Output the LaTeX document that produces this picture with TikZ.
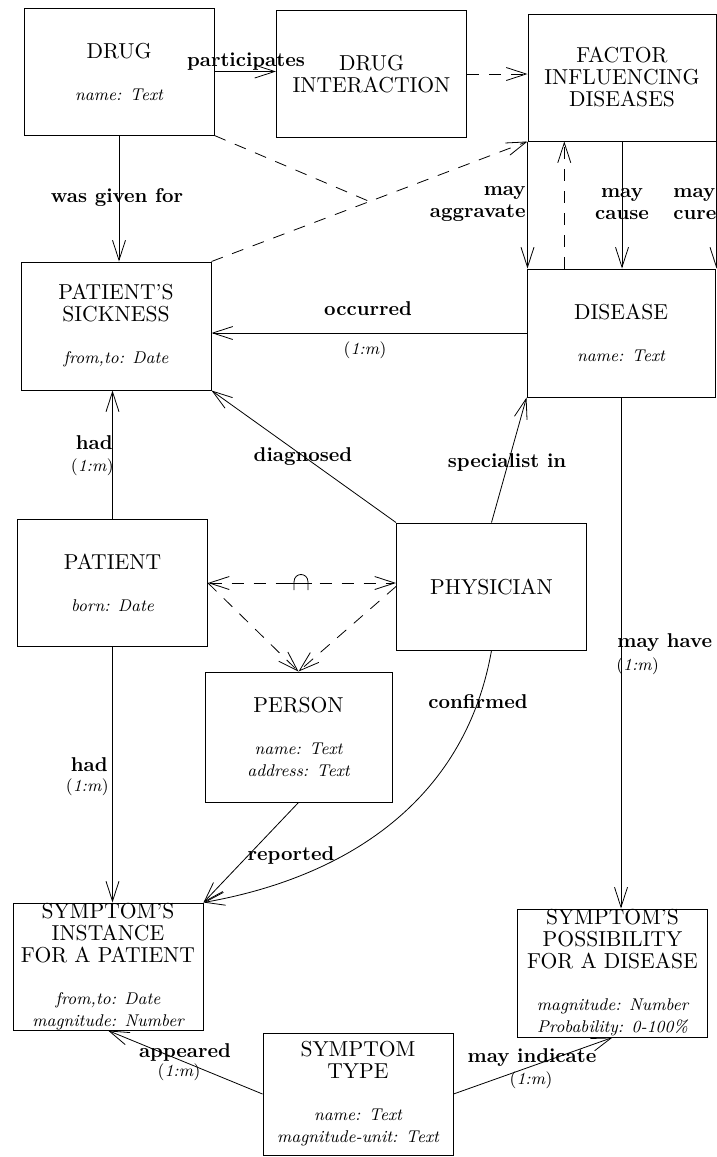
\documentclass[tikz,border=0pt]{standalone}
\usetikzlibrary{arrows.meta,calc}
\newcommand{\at}[1]{{\fontsize{8.5}{11}\selectfont\itshape #1}}
\newcommand{\card}{(\textit{1:m})}
\begin{document}
\begin{tikzpicture}[x=0.5pt,y=-0.5pt,
  ent/.style={draw, line width=0.5pt, minimum width=95pt, minimum height=63.5pt, inner sep=0pt, align=center, font=\fontsize{10.8}{11}\selectfont},
  openv/.tip={Straight Barb[length=10pt,width=6.5pt,line width=0.4pt]},
  arr/.style={line width=0.4pt, -{openv}},
  darr/.style={arr, dash pattern=on 6pt off 5pt},
  dsh/.style={line width=0.4pt, dash pattern=on 6pt off 5pt},
  darrboth/.style={line width=0.4pt, {openv}-{openv}, dash pattern=on 6pt off 5pt},
  lab/.style={font=\fontsize{10}{11}\selectfont\bfseries, inner sep=0pt, align=center},
  crd/.style={font=\fontsize{8.5}{10}\selectfont, inner sep=0pt}]
\fill[white] (0,0) rectangle (717,1157);
\useasboundingbox (0,0) rectangle (717,1157);

% entities
\node[ent] (drug) at (119,71.5) {DRUG\\[10pt]\at{name: Text}};
\node[ent] (inter) at (371.5,74) {DRUG\\INTERACTION};
\node[ent, minimum width=94pt] (factor) at (622,77.5) {FACTOR\\INFLUENCING\\DISEASES};
\node[ent, minimum width=94pt, minimum height=64pt] (disease) at (621,333) {DISEASE\\[10pt]\at{name: Text}};
\node[ent, minimum height=64pt] (sick) at (116,326) {PATIENT'S\\SICKNESS\\[10pt]\at{from,to: Date}};
\node[ent] (patient) at (112.5,583) {PATIENT\\[10pt]\at{born: Date}};
\node[ent] (physician) at (491.5,586.5) {PHYSICIAN};
\node[ent, minimum width=93.5pt, minimum height=65pt] (person) at (298.5,737) {PERSON\\[10pt]\at{name: Text}\\\at{address: Text}};
\node[ent] (inst) at (108,966.5) {SYMPTOM'S\\INSTANCE\\FOR A PATIENT\\[10pt]\at{from,to: Date}\\\at{magnitude: Number}};
\node[ent, minimum height=64pt] (poss) at (612.5,973) {SYMPTOM'S\\POSSIBILITY\\FOR A DISEASE\\[10pt]\at{magnitude: Number}\\\at{Probability: 0-100\%}};
\node[ent, minimum height=61pt] (stype) at (358,1094) {SYMPTOM\\TYPE\\[10pt]\at{name: Text}\\\at{magnitude-unit: Text}};

% connectors
\draw[arr] (drug.east) -- (drug.east -| inter.west);
\draw[darr] (inter.east) -- (inter.east -| factor.west);
\draw[darr] (sick.north east) -- coordinate (j) (factor.south west);
\draw[dsh] (drug.south east) -- (j);
\draw[arr] (drug.south) -- (drug.south |- sick.north);
\draw[arr] (factor.south west) -- (factor.south west |- disease.north);
\draw[arr] (factor.south) -- (factor.south |- disease.north);
\draw[arr] (factor.south east) -- (factor.south east |- disease.north);
\coordinate (u) at ($(disease.north west)!0.2!(disease.north east)$);
\draw[darr] (u) -- (u |- factor.south);
\draw[arr] (disease.west) -- (disease.west -| sick.east);
\draw[arr] (patient.north) -- (patient.north |- sick.south);
\draw[arr] (physician.north west) -- (sick.south east);
\draw[arr] (physician.north) -- (disease.south west);
\draw[darrboth] (patient.east) -- coordinate (mid) (patient.east -| physician.west);
\draw[line width=0.4pt] ($(mid)+(-15,0)$) -- ($(mid)+(10,0)$);
\draw[line width=0.4pt] ($(mid)+(-8,7)$) -- ($(mid)+(-8,-1)$) .. controls ($(mid)+(-8,-11)$) and ($(mid)+(6,-11)$) .. ($(mid)+(6,-1)$) -- ($(mid)+(6,7)$);
\draw[darr] (patient.east) -- (person.north);
\draw[darr] (physician.west) -- (person.north);
\draw[arr] (patient.south) -- (patient.south |- inst.north);
\draw[arr] (person.south) -- (inst.north east);
\draw[arr] (physician.south) to[out=-100,in=10] (inst.north east);
\draw[arr] (disease.south) -- (disease.south |- poss.north);
\draw[arr] (stype.west) -- (inst.south);
\draw[arr] (stype.east) -- (poss.south);

% labels
\node[lab] (lpart) at (246,62) {participates};
\node[lab] (lgiven) at (117,198) {was given for};
\node[lab, anchor=east, align=right] (lagg) at (526,204) {may\\aggravate};
\node[lab] (lcause) at (622,204) {may\\cause};
\node[lab, anchor=west, align=left] (lcure) at (673,204) {may\\cure};
\node[lab] (locc) at (368,309) {occurred};
\node[crd] (locc1) at (365,350) {\card};
\node[lab, anchor=east] (lhad1) at (113,443) {had};
\node[crd, anchor=east] (lhad1c) at (114,467) {\card};
\node[lab] (ldiag) at (303,457) {diagnosed};
\node[lab] (lspec) at (507,462) {specialist in};
\node[lab, anchor=west] (lmay) at (617,643) {may have};
\node[crd, anchor=west] (lmayc) at (616,666) {\card};
\node[lab, anchor=east] (lhad2) at (108,765) {had};
\node[crd, anchor=east] (lhad2c) at (109,787) {\card};
\node[lab] (lconf) at (478,702) {confirmed};
\node[lab] (lrep) at (291,855) {reported};
\node[lab] (lapp) at (185,1052) {appeared};
\node[crd] (lappc) at (179,1072) {\card};
\node[lab] (lind) at (532,1058) {may indicate};
\node[crd] (lindc) at (531,1080) {\card};
\end{tikzpicture}
\end{document}
